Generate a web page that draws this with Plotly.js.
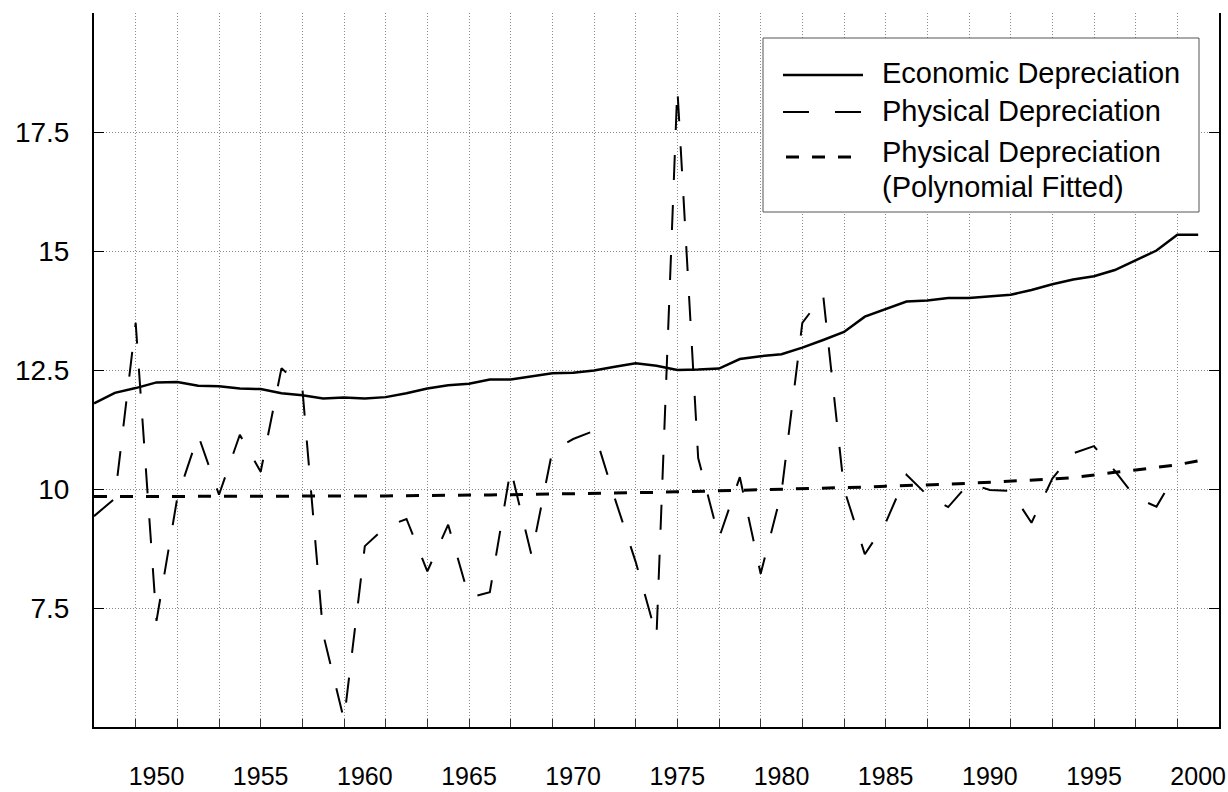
<!DOCTYPE html>
<html>
<head>
<meta charset="utf-8">
<script src="https://cdn.plot.ly/plotly-3.0.1.min.js"></script>
<style>
  html, body { margin: 0; padding: 0; background: #fff; }
  #chart { width: 1228px; height: 792px; }
</style>
</head>
<body>
<div id="chart"></div>
<script>
// ---------- data ----------
const years = [1947, 1948, 1949, 1950, 1951, 1952, 1953, 1954, 1955, 1956,
               1957, 1958, 1959, 1960, 1961, 1962, 1963, 1964, 1965, 1966,
               1967, 1968, 1969, 1970, 1971, 1972, 1973, 1974, 1975, 1976,
               1977, 1978, 1979, 1980, 1981, 1982, 1983, 1984, 1985, 1986,
               1987, 1988, 1989, 1990, 1991, 1992, 1993, 1994, 1995, 1996,
               1997, 1998, 1999, 2000];

const economicDepreciation = [11.80, 12.02, 12.12, 12.24, 12.25, 12.17, 12.16, 12.11, 12.10, 12.01,
                              11.97, 11.90, 11.92, 11.90, 11.93, 12.01, 12.11, 12.18, 12.21, 12.30,
                              12.30, 12.37, 12.43, 12.44, 12.49, 12.57, 12.64, 12.59, 12.50, 12.51,
                              12.53, 12.73, 12.79, 12.83, 12.97, 13.13, 13.30, 13.62, 13.78, 13.94,
                              13.96, 14.01, 14.01, 14.04, 14.08, 14.18, 14.30, 14.40, 14.47, 14.60,
                              14.81, 15.01, 15.34, 15.34];

const physicalDepreciation = [9.43, 9.80, 13.49, 7.23, 9.82, 11.13, 9.88, 11.14, 10.36, 12.54,
                              12.12, 6.95, 5.15, 8.80, 9.20, 9.37, 8.27, 9.25, 7.72, 7.83,
                              10.42, 8.61, 10.80, 11.05, 11.22, 9.80, 8.47, 6.91, 18.42, 10.65,
                              8.97, 10.25, 8.22, 9.93, 13.49, 14.07, 10.00, 8.63, 9.29, 10.30,
                              9.87, 9.62, 10.12, 9.98, 9.96, 9.29, 10.22, 10.75, 10.90, 10.38,
                              9.82, 9.63, 10.38];

const physicalFitted = [9.84, 9.84, 9.84, 9.84, 9.84, 9.84, 9.84, 9.84, 9.84, 9.845,
                        9.85, 9.85, 9.85, 9.85, 9.855, 9.86, 9.86, 9.865, 9.87, 9.875,
                        9.88, 9.885, 9.89, 9.90, 9.905, 9.91, 9.92, 9.93, 9.94, 9.95,
                        9.96, 9.97, 9.98, 9.99, 10.00, 10.01, 10.02, 10.04, 10.06, 10.07,
                        10.09, 10.10, 10.12, 10.14, 10.16, 10.18, 10.21, 10.24, 10.30, 10.35,
                        10.40, 10.45, 10.51, 10.59];

const xTickVals = [1950, 1955, 1960, 1965, 1970, 1975, 1980, 1985, 1990, 1995, 2000];
const xTickText = ['1950', '1955', '1960', '1965', '1970', '1975', '1980', '1985', '1990', '1995', '2000'];
const xGridVals = [1949, 1951, 1953, 1955, 1957, 1959, 1961, 1963, 1965, 1967, 1969, 1971, 1973,
                   1975, 1977, 1979, 1981, 1983, 1985, 1987, 1989, 1991, 1993, 1995, 1997, 1999];
const yTickVals = [7.5, 10, 12.5, 15, 17.5];
const yTickText = ['7.5', '10', '12.5', '15', '17.5'];

const seriesNames = ['Economic Depreciation', 'Physical Depreciation',
                     'Physical Depreciation', '(Polynomial Fitted)'];

// ---------- layout geometry ----------
const W = 1228, H = 792;
const L = 94, R = 1219, T = 13, B = 727;
const px = x => (x - L) / (R - L);
const py = y => (B - y) / (B - T);
const FONT = 'Liberation Sans, Arial, Helvetica, sans-serif';

const traces = [
  { x: years, y: economicDepreciation, type: 'scatter', mode: 'lines',
    name: seriesNames[0], line: { color: '#000', width: 2.5 } },
  { x: years.slice(0, physicalDepreciation.length), y: physicalDepreciation,
    type: 'scatter', mode: 'lines', name: seriesNames[1],
    line: { color: '#000', width: 2, dash: '25px,25px' } },
  { x: years, y: physicalFitted, type: 'scatter', mode: 'lines',
    name: seriesNames[2] + ' ' + seriesNames[3],
    line: { color: '#000', width: 3, dash: '13px,13px' } }
];

// legend drawn by hand to match the long sample lines
const legendBox = { x0: 763, y0: 38, x1: 1199, y1: 212 };
const shapes = [
  { type: 'rect', xref: 'paper', yref: 'paper', layer: 'above',
    x0: px(legendBox.x0), x1: px(legendBox.x1), y0: py(legendBox.y1), y1: py(legendBox.y0),
    fillcolor: '#fff', line: { color: '#555', width: 1 } },
  { type: 'line', xref: 'paper', yref: 'paper', layer: 'above',
    x0: px(783), x1: px(863), y0: py(75), y1: py(75),
    line: { color: '#000', width: 2.5 } },
  { type: 'line', xref: 'paper', yref: 'paper', layer: 'above',
    x0: px(783), x1: px(861), y0: py(112), y1: py(112),
    line: { color: '#000', width: 2, dash: '26px,26px' } },
  { type: 'line', xref: 'paper', yref: 'paper', layer: 'above',
    x0: px(786), x1: px(852), y0: py(157), y1: py(157),
    line: { color: '#000', width: 3, dash: '13px,13px' } }
];

const legendTextY = [73, 111, 152, 187];
const annotations = seriesNames.map((t, i) => ({
  xref: 'paper', yref: 'paper', x: px(880), y: py(legendTextY[i]),
  xanchor: 'left', yanchor: 'middle', showarrow: false, text: t,
  font: { family: FONT, size: 29, color: '#000' }
}));

const gridColor = '#8a8a8a';
const layout = {
  width: W, height: H,
  margin: { l: L, r: W - R, t: T, b: H - B, pad: 0 },
  paper_bgcolor: '#fff', plot_bgcolor: '#fff',
  showlegend: false,
  font: { family: FONT, color: '#000' },
  xaxis: {
    range: [1947, 2001], tickmode: 'array', tickvals: xTickVals, ticktext: xTickText,
    ticks: '', showgrid: false, zeroline: false,
    showline: true, linecolor: '#000', linewidth: 2, mirror: false,
    tickfont: { family: FONT, size: 25, color: '#000' },
    ticklabelstandoff: 26,
    minor: { tickmode: 'array', tickvals: xGridVals, ticks: 'inside', ticklen: 8,
             tickcolor: '#333', tickwidth: 1, showgrid: true, gridcolor: gridColor,
             gridwidth: 1, griddash: '1px,2px' }
  },
  yaxis: {
    range: [5, 20], tickmode: 'array', tickvals: yTickVals, ticktext: yTickText,
    ticks: 'inside', ticklen: 10, tickwidth: 1, tickcolor: '#000',
    showline: true, linecolor: '#000', linewidth: 2, mirror: 'ticks',
    showgrid: true, gridcolor: gridColor, gridwidth: 1, griddash: '1px,2px',
    zeroline: false,
    tickfont: { family: FONT, size: 28, color: '#000' },
    ticklabelstandoff: 17
  },
  shapes: shapes,
  annotations: annotations
};

Plotly.newPlot('chart', traces, layout, { displayModeBar: false, staticPlot: true });
</script>
</body>
</html>
